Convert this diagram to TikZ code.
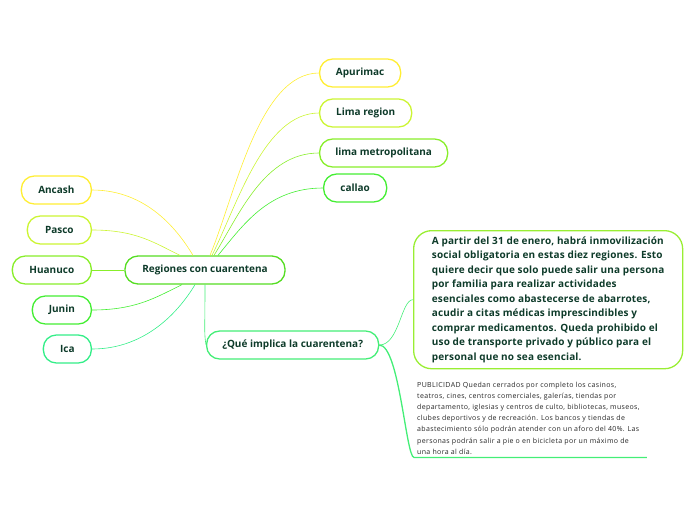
\documentclass[tikz,border=0pt]{standalone}
\usepackage{fontspec}
\setmainfont{Open Sans}
\newfontfamily\boxfont[LetterSpace=1.5]{Open Sans}
\newfontfamily\pubfont[LetterSpace=5]{Open Sans}
\usepackage{xcolor}
\usetikzlibrary{positioning}

\definecolor{txtgreen}{HTML}{0E3B2A}
\definecolor{cyellow}{HTML}{FFEE33}
\definecolor{clime}{HTML}{CCF533}
\definecolor{cgreen}{HTML}{88EE2A}
\definecolor{cbright}{HTML}{44EE33}
\definecolor{cmint}{HTML}{33EE88}
\definecolor{cmain}{HTML}{55DD22}
\definecolor{cque}{HTML}{44EE77}
\definecolor{cbox}{HTML}{99EE33}

\begin{document}
\begin{tikzpicture}[
  x=1pt, y=-1pt,
  topic/.style={draw, rounded corners=13pt, line width=1.3pt, minimum height=28pt, inner xsep=0pt, font=\fontsize{10}{12}\selectfont\bfseries, text=txtgreen, fill=white},
  link/.style={line width=0.6pt}
]
  \useasboundingbox (0,0) rectangle (696,520);

  % central topic
  \node[topic, draw=cmain, minimum width=160pt] (reg) at (205,270) {Regiones con cuarentena};

  % left branches
  \node[topic, draw=cyellow, minimum width=70pt, anchor=east] (ancash) at (92,190) {Ancash};
  \node[topic, draw=clime, minimum width=64pt, anchor=east] (pasco) at (92,230) {Pasco};
  \node[topic, draw=cgreen, minimum width=79pt, anchor=east] (huanuco) at (92,270) {Huanuco};
  \node[topic, draw=cbright, minimum width=59pt, anchor=east] (junin) at (92,310) {Junin};
  \node[topic, draw=cmint, minimum width=48pt, anchor=east] (ica) at (92,349) {Ica};

  % right branches
  \node[topic, draw=cyellow, minimum width=81pt, anchor=west] (apurimac) at (319,73) {Apurimac};
  \node[topic, draw=clime, minimum width=92pt, anchor=west] (limareg) at (319,113) {Lima region};
  \node[topic, draw=cgreen, minimum width=128pt, anchor=west] (limamet) at (319,153) {lima metropolitana};
  \node[topic, draw=cbright, minimum width=63pt, anchor=west] (callao) at (323,188) {callao};

  % question
  \node[topic, draw=cque, minimum width=172pt, anchor=west] (que) at (206,345) {¿Qué implica la cuarentena?};

  \node[draw=cbox, rounded corners=18pt, line width=1.3pt, anchor=north west, minimum width=269pt, minimum height=138pt, inner xsep=18pt, inner ysep=6pt, align=left, text=txtgreen,
    font=\fontsize{10}{14.5}\boxfont\bfseries] (detalle) at (413,230)
    {A partir del 31 de enero, habrá inmovilización\\
     social obligatoria en estas diez regiones. Esto\\
     quiere decir que solo puede salir una persona\\
     por familia para realizar actividades\\
     esenciales como abastecerse de abarrotes,\\
     acudir a citas médicas imprescindibles y\\
     comprar medicamentos. Queda prohibido el\\
     uso de transporte privado y público para el\\
     personal que no sea esencial.};

  \node[anchor=north west, inner xsep=7pt, inner ysep=3pt, align=left, text=black!85,
    font=\fontsize{7}{11.1}\pubfont] (pub) at (410,379)
    {PUBLICIDAD Quedan cerrados por completo los casinos,\\
     teatros, cines, centros comerciales, galerías, tiendas por\\
     departamento, iglesias y centros de culto, bibliotecas, museos,\\
     clubes deportivos y de recreación. Los bancos y tiendas de\\
     abastecimiento sólo podrán atender con un aforo del 40\%. Las\\
     personas podrán salir a pie o en bicicleta por un máximo de\\
     una hora al día.};

  % connectors
  \draw[link, cyellow] (ancash.east) .. controls +(55,0) and +(-15,-25) .. ([xshift=-12pt]reg.north);
  \draw[link, clime] (pasco.east) .. controls +(45,0) and +(-25,-12) .. ([xshift=-25pt]reg.north);
  \draw[link, cgreen] (huanuco.east) -- (reg.west);
  \draw[link, cbright] (junin.east) .. controls +(45,0) and +(-25,12) .. ([xshift=-23pt]reg.south);
  \draw[link, cmint] (ica.east) .. controls +(55,0) and +(-15,25) .. ([xshift=-10pt]reg.south);

  \draw[link, cyellow] (apurimac.west) .. controls +(-60,0) and +(25,-60) .. ([xshift=5pt]reg.north);
  \draw[link, clime] (limareg.west) .. controls +(-55,0) and +(25,-50) .. ([xshift=7pt]reg.north);
  \draw[link, cgreen] (limamet.west) .. controls +(-55,0) and +(25,-40) .. ([xshift=9pt]reg.north);
  \draw[link, cbright] (callao.west) .. controls +(-55,0) and +(25,-30) .. ([xshift=13pt]reg.north);

  \draw[link, cque] (reg.south) .. controls +(0,45) and +(-2,-12) .. (que.west);

  \draw[link, cque] (que.east) .. controls +(20,0) and +(-12,0) .. (detalle.west);
  \draw[line width=1.3pt, cque] (que.east) .. controls +(20,0) and +(-8,0) .. ([xshift=4pt]pub.south west) -- (pub.south east);
\end{tikzpicture}
\end{document}
